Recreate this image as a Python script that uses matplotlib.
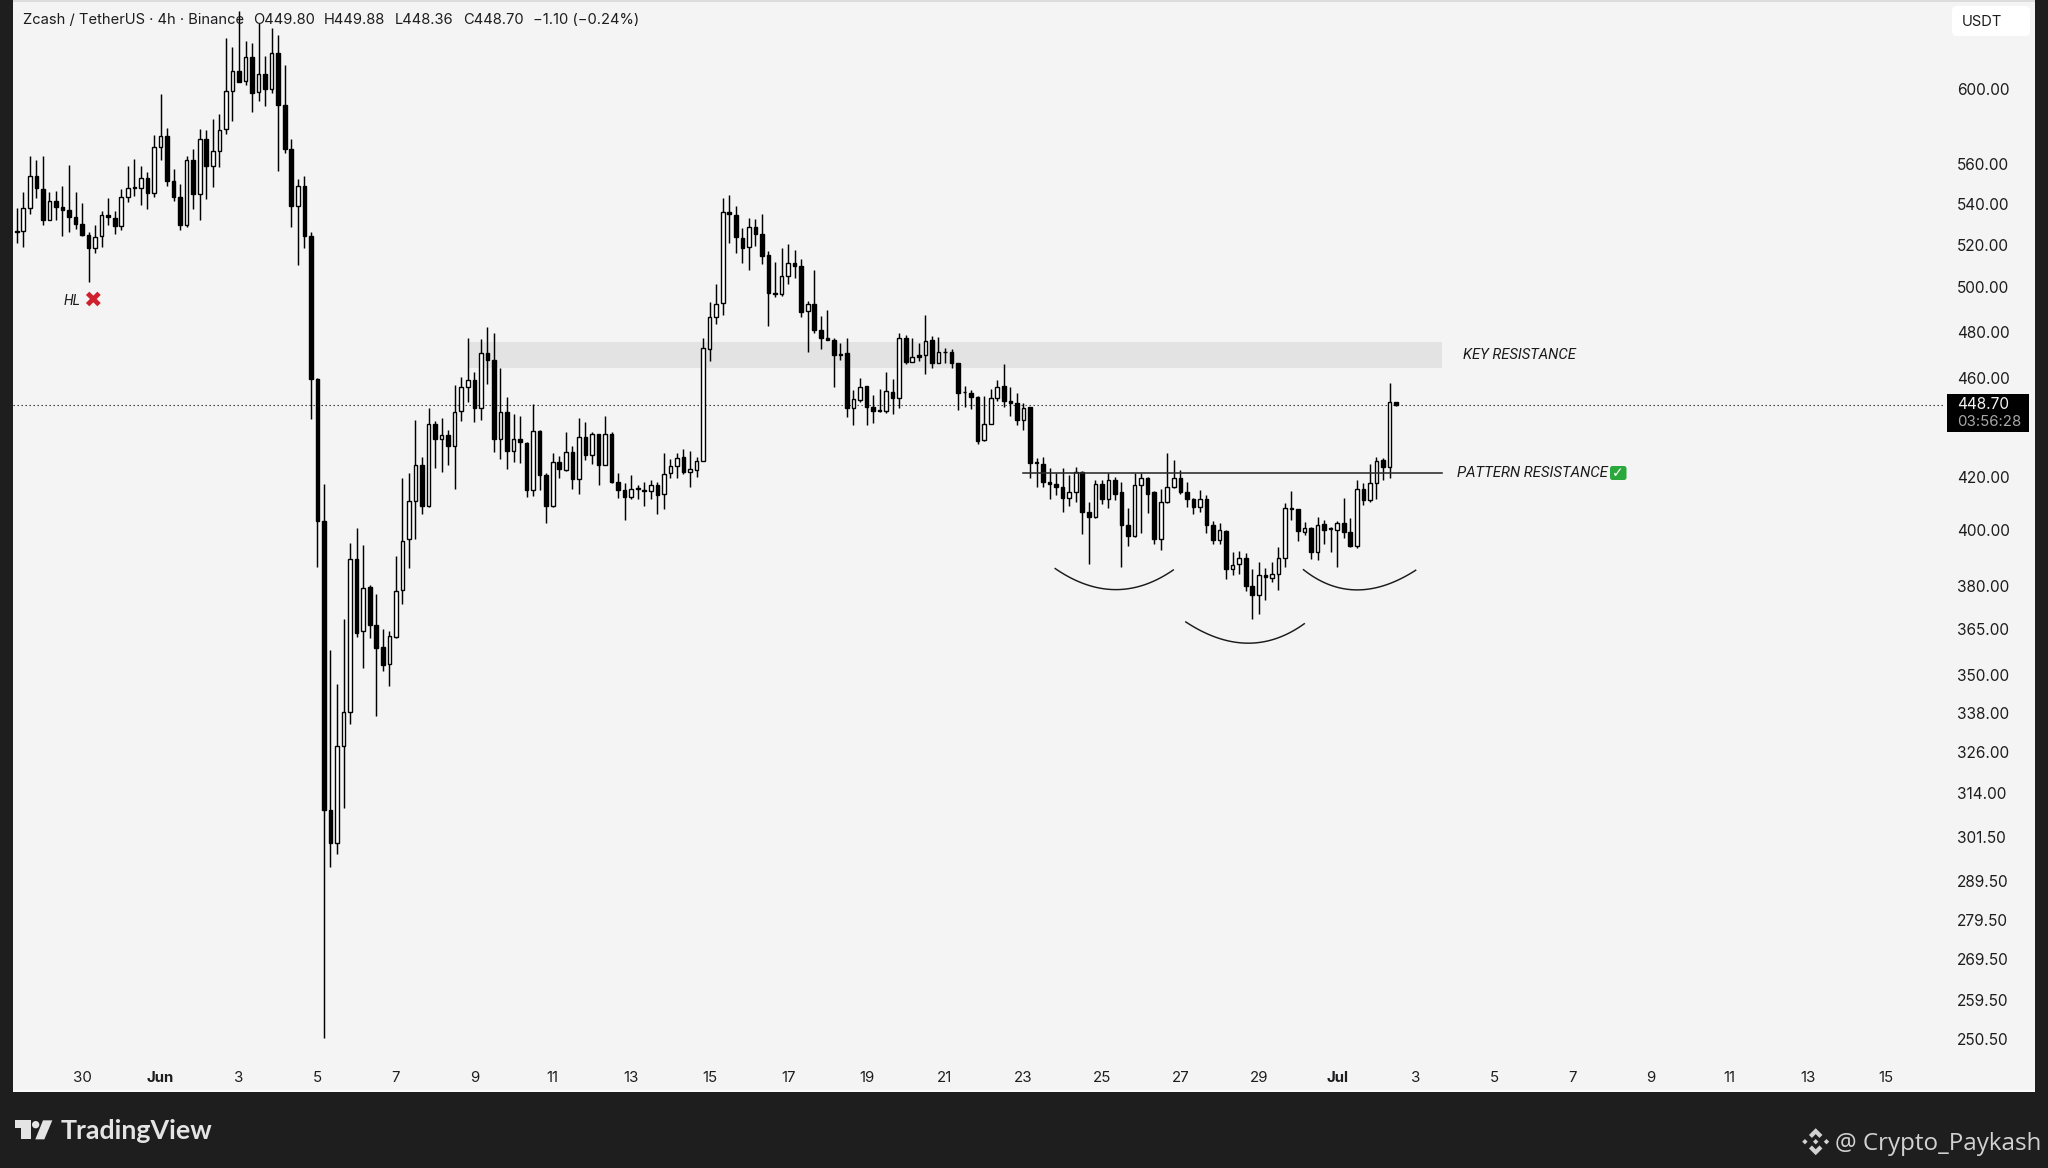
import numpy as np
import matplotlib
matplotlib.use("Agg")
import matplotlib.pyplot as plt
from matplotlib.patches import Polygon, FancyBboxPatch, Circle, Rectangle

# ---------- data (4h candles, Zcash / TetherUS) ----------
opens = [
526.7,526.7,537.7,554.0,547.4,532.0,541.1,538.4,536.9,533.2,
529.8,524.4,518.5,523.9,534.5,532.9,528.8,543.5,548.3,547.6,
552.9,545.2,569.1,574.8,551.3,543.5,529.4,562.0,544.8,572.8,
558.8,566.5,578.4,598.7,609.9,604.4,617.9,598.1,608.4,600.0,
620.5,591.5,567.8,539.0,549.0,524.2,459.6,403.3,309.2,300.0,
327.8,338.3,389.5,364.3,379.4,366.4,359.2,353.5,362.5,378.4,
396.5,410.8,424.6,408.9,440.7,434.8,436.5,432.1,446.0,456.1,
459.2,447.3,470.5,467.7,434.8,445.6,430.0,434.9,433.4,415.0,
438.2,420.7,408.9,425.9,422.7,429.7,419.0,435.8,428.5,436.9,
424.4,436.7,417.8,414.8,412.1,415.2,415.0,414.4,416.9,413.3,
421.4,424.3,427.8,421.7,422.7,426.3,472.5,486.7,492.6,535.8,
534.5,523.1,518.7,528.6,525.0,514.9,497.4,496.9,505.3,511.2,
509.9,489.1,492.2,480.6,477.4,476.5,470.2,470.5,447.4,450.7,
456.4,448.0,446.6,446.4,454.2,451.7,477.1,466.9,469.6,469.6,
476.1,466.4,471.0,471.2,466.5,454.2,453.8,452.1,434.6,441.0,
451.7,456.4,450.3,449.4,442.6,447.7,425.9,425.0,417.9,417.4,
416.0,412.0,414.0,422.0,406.5,404.7,417.1,411.6,418.7,414.1,
401.9,397.7,416.9,419.6,414.0,396.5,410.2,415.9,419.5,414.1,
411.4,408.5,411.6,401.9,396.2,399.6,386.0,387.6,389.8,379.8,
376.7,383.8,382.8,384.1,389.7,408.3,407.7,399.3,400.5,392.0,
402.0,400.6,400.1,402.7,399.3,394.1,415.2,411.1,417.7,426.5,
423.8,449.80]
highs = [
537.7,546.0,564.2,562.2,563.9,546.0,546.4,548.9,559.5,545.9,
540.5,526.0,529.4,536.1,542.6,536.3,547.2,558.8,562.5,558.8,
556.1,575.3,597.4,578.9,557.4,549.8,564.2,567.8,578.4,577.6,
583.7,586.3,628.8,623.4,644.4,627.3,625.9,637.6,618.3,634.6,
630.4,613.6,573.2,552.5,554.0,526.0,460.0,417.3,358.3,347.0,
368.6,395.3,400.8,394.4,380.3,377.1,365.1,364.5,390.5,419.5,
421.4,442.6,427.8,447.3,442.3,443.3,438.5,456.8,460.2,477.4,
462.3,476.8,482.2,479.3,464.1,452.1,444.8,444.0,433.6,449.1,
438.5,421.4,429.1,428.2,437.5,432.1,443.3,441.9,437.8,436.9,
444.0,437.8,421.4,417.7,420.7,416.8,418.1,418.7,417.9,429.4,
426.9,429.4,430.7,430.1,427.8,477.4,493.4,501.6,543.0,544.3,
539.0,527.8,533.0,532.5,534.8,517.0,511.9,518.2,520.2,517.4,
513.1,493.8,507.8,487.0,489.7,477.4,475.1,477.4,455.0,460.0,
456.4,452.8,455.2,462.7,459.5,479.6,478.6,477.1,475.1,487.4,
477.9,477.6,472.9,472.2,466.5,456.4,454.8,452.4,452.4,455.2,
459.2,465.9,456.1,453.5,449.4,447.7,427.2,427.8,423.4,421.6,
423.4,420.7,423.8,422.4,410.5,418.7,418.7,421.6,419.8,417.9,
408.0,421.6,421.4,420.0,414.5,415.2,429.1,426.5,422.7,418.1,
411.8,415.0,413.1,403.2,402.7,400.0,391.8,392.2,391.7,385.9,
388.5,386.1,388.5,393.6,409.9,414.6,407.9,402.9,401.0,404.7,
403.7,401.0,403.3,411.9,404.4,418.7,417.5,425.0,427.8,427.5,
457.7,449.88]
lows = [
520.6,519.0,535.0,542.6,529.4,531.7,531.7,523.9,526.3,527.6,
524.2,502.6,516.2,519.0,529.6,525.2,526.8,541.0,543.8,539.2,
537.4,543.5,562.2,548.6,541.3,526.8,528.5,537.2,531.7,542.3,
548.1,558.3,575.5,582.4,603.7,602.0,587.6,593.6,590.8,597.7,
556.6,565.9,528.5,510.4,518.2,443.0,386.4,250.7,293.3,297.0,
309.7,334.6,362.5,352.2,362.0,337.1,351.4,346.5,362.0,373.6,
386.2,396.5,405.9,408.4,423.4,422.0,424.6,415.2,442.3,449.8,
441.9,442.6,457.5,429.5,426.9,423.1,425.9,425.5,412.1,412.8,
415.0,402.7,408.6,419.5,422.4,415.3,413.3,426.5,425.1,416.8,
424.4,417.7,411.7,403.7,411.5,411.4,409.0,411.4,405.8,407.8,
419.5,419.5,421.2,416.2,419.8,426.3,467.2,483.4,487.4,520.7,
515.9,511.5,508.1,519.5,510.9,482.6,495.4,495.9,501.4,504.2,
486.4,471.2,479.6,472.3,476.2,456.3,467.7,443.9,440.6,450.0,
440.4,441.5,445.7,445.3,444.9,447.6,465.9,466.9,467.2,461.7,
464.4,466.4,466.3,464.4,446.6,447.7,447.1,432.9,434.2,440.8,
450.3,448.0,444.2,440.6,438.5,419.5,415.9,415.9,411.4,413.1,
406.8,408.9,410.5,398.3,387.7,404.2,409.6,408.3,411.1,386.7,
394.0,397.4,399.0,406.4,395.0,392.6,409.9,415.6,413.5,408.4,
405.8,406.8,399.0,394.8,395.0,382.3,383.8,384.1,378.2,368.5,
370.3,375.0,381.3,378.5,386.7,403.7,396.0,398.0,389.3,389.1,
394.8,392.0,386.4,397.0,393.6,393.4,409.2,410.5,411.4,418.7,
419.5,448.36]
closes = [
526.0,537.6,554.0,547.6,532.0,541.1,538.5,536.9,533.2,529.8,
524.4,518.5,523.6,534.5,533.2,528.8,543.2,547.8,547.8,552.9,
545.2,569.1,574.8,551.3,543.5,529.4,562.0,544.8,572.8,558.8,
566.5,578.0,598.7,609.9,604.1,617.9,597.7,608.4,600.0,620.5,
591.5,567.8,539.0,549.0,524.2,459.6,403.4,309.2,299.9,327.8,
338.3,389.5,363.9,379.2,366.4,358.9,353.3,362.8,378.2,396.0,
410.8,424.6,408.9,440.7,434.8,436.5,432.1,445.8,456.1,459.2,
447.3,470.5,467.7,434.8,445.6,430.1,434.9,433.6,415.0,438.2,
420.7,408.9,425.9,423.1,429.7,419.0,435.6,428.5,436.7,424.4,
436.7,417.9,415.0,412.1,415.2,415.7,414.4,416.7,413.1,421.1,
424.2,427.5,421.7,423.0,426.0,472.7,486.7,492.3,535.6,534.6,
523.6,518.5,528.6,525.0,514.7,497.5,496.9,505.3,511.3,509.9,
488.9,492.2,480.5,477.4,476.2,469.6,469.6,447.4,451.0,456.1,
448.0,446.0,446.1,454.4,451.7,477.1,466.7,469.0,468.8,475.9,
466.3,470.9,471.3,466.5,453.8,454.0,452.0,434.2,440.9,451.4,
456.1,450.2,449.6,442.6,447.4,425.3,425.3,417.9,417.4,416.0,
412.0,414.0,422.0,406.8,404.9,417.1,411.5,418.7,413.3,401.9,
397.7,416.9,419.6,413.3,396.5,410.2,415.9,419.6,414.0,411.4,
408.5,411.5,401.9,396.2,399.9,386.0,387.3,389.8,380.0,376.7,
383.8,383.0,384.1,389.7,408.0,407.7,399.4,400.5,392.0,401.8,
400.0,400.3,402.7,399.2,394.1,415.2,411.1,417.5,426.3,423.8,
449.8,448.70]
first_candle_day = -22 / 6          # days after 1 Jun
candles_per_day = 6

price_ticks = [600.0, 560.0, 540.0, 520.0, 500.0, 480.0, 460.0, 420.0, 400.0, 380.0,
               365.0, 350.0, 338.0, 326.0, 314.0, 301.5, 289.5, 279.5, 269.5, 259.5, 250.5]
day_ticks = [-2, 0, 2, 4, 6, 8, 10, 12, 14, 16, 18, 20, 22, 24, 26, 28, 30, 32, 34, 36, 38, 40, 42, 44]
day_labels = ['30', 'Jun', '3', '5', '7', '9', '11', '13', '15', '17', '19', '21', '23', '25',
              '27', '29', 'Jul', '3', '5', '7', '9', '11', '13', '15']
last_price = 448.70
key_zone = (464.1, 475.6)
key_zone_days = (7.84, 32.68)
pattern_level = 421.6
pattern_days = (21.98, 32.67)
arcs = [((22.81, 386.0), (24.33, 378.6), (25.82, 385.5)),
        ((26.14, 367.5), (27.70, 360.4), (29.16, 366.9)),
        ((29.14, 385.6), (30.50, 378.5), (32.00, 385.4))]

# ---------- figure ----------
W, H = 2048, 1168
FRAME = '#1e1e1e'
PANE = '#f4f4f4'
INK = '#1d1d1f'
FONT = ['Inter', 'Roboto', 'DejaVu Sans']
plt.rcParams['font.family'] = FONT

fig = plt.figure(figsize=(W / 100, H / 100), dpi=100, facecolor=FRAME)
L, R, B = 13, 2035, 1092
ax = fig.add_axes([L / W, 1 - B / H, (R - L) / W, B / H], facecolor=PANE)
ax.set_yscale('log')
ax.set_ylim(238.5, 651.2)
ax.set_xlim(-3.761, 47.79)
for s in ax.spines.values():
    s.set_visible(False)

ax.yaxis.tick_right()
ax.set_yticks(price_ticks)
ax.set_yticks([], minor=True)
ax.set_yticklabels([f'{v:.2f}' for v in price_ticks])
ax.tick_params(axis='y', length=0, pad=-56.3, labelsize=11.1, labelcolor=INK)
for t in ax.get_yticklabels():
    t.set_verticalalignment('center_baseline')
ax.set_xticks(day_ticks)
ax.set_xticklabels(day_labels)
ax.tick_params(axis='x', length=0, pad=-15.0, labelsize=10.8, labelcolor=INK)
for t in ax.get_xticklabels():
    if t.get_text() in ('Jun', 'Jul'):
        t.set_fontweight('bold')

# zone and levels
ax.fill_between(key_zone_days, key_zone[0], key_zone[1], color='#e3e3e3', lw=0, zorder=1)
ax.plot([-3.761, 45.5], [last_price, last_price], color='#222222', lw=0.8,
        ls=(0, (1.2, 2.4)), zorder=1.5)
ax.plot(pattern_days, [pattern_level, pattern_level], color='#2a2a2a', lw=1.15, zorder=4)

# candles
opens_a, highs_a, lows_a, closes_a = map(np.array, (opens, highs, lows, closes))
days = first_candle_day + np.arange(len(opens_a)) / candles_per_day
up = closes_a >= opens_a
ax.vlines(days, lows_a, highs_a, color='black', lw=1.05, zorder=2)
body_w = 0.092
ax.bar(days[up], closes_a[up] - opens_a[up], bottom=opens_a[up], width=body_w,
       facecolor='white', edgecolor='black', lw=1.0, zorder=3)
ax.bar(days[~up], opens_a[~up] - closes_a[~up], bottom=closes_a[~up], width=body_w,
       facecolor='black', edgecolor='black', lw=1.0, zorder=3)

# pattern arcs (parabolas through three anchors, in log price)
for (p0, p1, p2) in arcs:
    t = np.linspace(0, 1, 60)
    mid_x = 2 * p1[0] - 0.5 * (p0[0] + p2[0])
    mid_y = 2 * np.log(p1[1]) - 0.5 * (np.log(p0[1]) + np.log(p2[1]))
    xs = (1 - t) ** 2 * p0[0] + 2 * t * (1 - t) * mid_x + t ** 2 * p2[0]
    ys = (1 - t) ** 2 * np.log(p0[1]) + 2 * t * (1 - t) * mid_y + t ** 2 * np.log(p2[1])
    ax.plot(xs, np.exp(ys), color='#1a1a1a', lw=1.05, zorder=4)

# ---------- overlay in image pixels for chrome and notes ----------
ov = fig.add_axes([0, 0, 1, 1], facecolor='none')
ov.set_xlim(0, W)
ov.set_ylim(H, 0)
ov.axis('off')

ov.add_patch(Rectangle((L, 0), R - L, 1.6, color='#dcdcdc', lw=0))
ov.add_patch(Rectangle((L, B - 2), R - L, 2, color='#fbfbfb', lw=0))

hdr = dict(va='center', ha='left', fontsize=10.6, color=INK, zorder=6)
ov.text(23, 20.5, 'Zcash / TetherUS · 4h · Binance', **hdr)
ov.text(253, 20.5, 'O449.80', **hdr)
ov.text(324, 20.5, 'H449.88', **hdr)
ov.text(395, 20.5, 'L448.36', **hdr)
ov.text(463, 20.5, 'C448.70', **hdr)
ov.text(533, 20.5, '−1.10 (−0.24%)', **hdr)

ov.add_patch(FancyBboxPatch((1955.5, 9.5), 71, 23, boxstyle='round,pad=3.5,rounding_size=5',
                            fc='white', ec='none', zorder=5))
ov.text(1962, 21.5, 'USDT', va='center', ha='left', fontsize=10.6, color=INK, zorder=6)

# last price tag
ov.add_patch(Rectangle((1946.7, 393.5), 82.3, 38.5, color='black', lw=0, zorder=5))
ov.text(1957.3, 404.3, '448.70', va='center', ha='left', fontsize=11.1, color='#f2f2f2', zorder=6)
ov.text(1957.3, 421.8, '03:56:28', va='center', ha='left', fontsize=10.8, color='#a8a8a8', zorder=6)

# notes
note = dict(style='italic', va='center', ha='left', color='#1a1a1a', family='Roboto', zorder=6)
ov.text(1463, 355, 'KEY RESISTANCE', fontsize=10.6, **note)
ov.text(1456.7, 473.3, 'PATTERN RESISTANCE', fontsize=10.7, **note)
ov.text(64, 301, 'HL', fontsize=10, **note)
ov.text(92.3, 300.5, '✖', fontsize=16, color='#d0202e', family='DejaVu Sans', va='center', ha='center', zorder=6)
ov.add_patch(FancyBboxPatch((1611.5, 467.5), 13.5, 11, boxstyle='round,pad=1.5,rounding_size=2.5',
                            fc='#2aa83c', ec='none', zorder=5))
ov.text(1618.2, 473, '✓', fontsize=10, color='white', family='DejaVu Sans', fontweight='bold',
        va='center', ha='center', zorder=6)

# TradingView mark
LOGO = '#e4e4e4'
def zp(pts):
    return [(x / 3, 1040 + y / 3) for x, y in pts]
ov.add_patch(Polygon(zp([(45, 241), (92, 241), (92, 298), (62, 298), (62, 264), (45, 264)]), color=LOGO, lw=0))
ov.add_patch(Circle((107 / 3, 1040 + 254 / 3), 11 / 3, color=LOGO, lw=0))
ov.add_patch(Polygon(zp([(129, 241), (157, 241), (133, 298), (106, 298)]), color=LOGO, lw=0))
ov.text(60.5, 1131, 'TradingView', va='center', ha='left', fontsize=19.3, color=LOGO,
        family='Lato', fontweight='bold')

# Binance mark and credit
WM = '#d2d2d2'
cx, cy, u = 1815.7, 1141.7, 13.5
def bp(pts):
    return [(cx + a * u, cy + b * u) for a, b in pts]
ov.add_patch(Polygon(bp([(0, -1), (.5, -.5), (.28, -.28), (0, -.56), (-.28, -.28), (-.5, -.5)]), color=WM, lw=0))
ov.add_patch(Polygon(bp([(0, 1), (.5, .5), (.28, .28), (0, .56), (-.28, .28), (-.5, .5)]), color=WM, lw=0))
for a, b in [(-.8, 0), (.8, 0), (0, 0)]:
    ov.add_patch(Polygon(bp([(a - .2, b), (a, b - .2), (a + .2, b), (a, b + .2)]), color=WM, lw=0))
ov.text(1835, 1143.5, '@ Crypto_Paykash', va='center', ha='left', fontsize=17.4, color=WM, family='Open Sans')

fig.savefig('out.png', dpi=100, facecolor=FRAME)
